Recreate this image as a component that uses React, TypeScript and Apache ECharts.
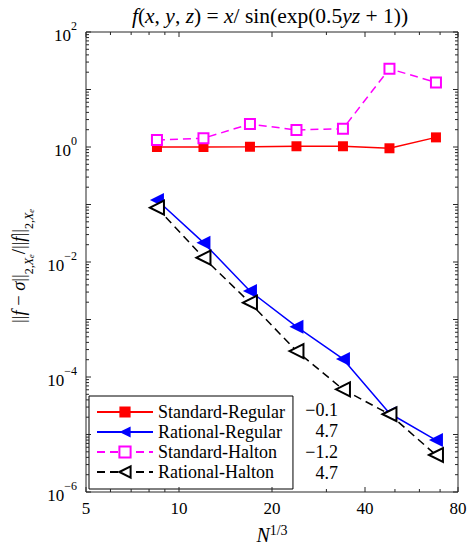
import React, { useEffect, useRef } from "react";
import * as echarts from "echarts";

// N^{1/3} sample positions
const nCube = [8.485, 12, 16.97, 24, 33.94, 48, 67.88];
const seriesNames = ["Standard-Regular", "Rational-Regular", "Standard-Halton", "Rational-Halton"];
const standardRegular = [1.0, 1.0, 1.01, 1.03, 1.03, 0.95, 1.47];
const rationalRegular = [0.12, 0.0217, 0.00313, 7.5e-4, 2.06e-4, 2.34e-5, 8.0e-6];
const standardHalton = [1.32, 1.42, 2.51, 1.98, 2.08, 23, 13.3];
const rationalHalton = [0.088, 0.0119, 0.00196, 2.83e-4, 6.1e-5, 2.25e-5, 4.4e-6];
const rates = ["\u22120.1", "4.7", "\u22121.2", "4.7"];
const xTicks = [5, 10, 20, 40, 80];
const xMinorTicks = [6, 7, 8, 9, 30, 50, 60, 70];
const yExponents = [-6, -5, -4, -3, -2, -1, 0, 1, 2];
const yMinorMult = [2, 3, 4, 5, 6, 7, 8, 9];

const FONT = "Liberation Serif";
const AXIS_COLOR = "#262626";

export default function App() {
  const ref = useRef<HTMLDivElement>(null);
  useEffect(() => {
    if (!ref.current) return;
    const chart = echarts.init(ref.current, undefined, { renderer: "svg" });
    const xMin = xTicks[0];
    const xMax = xTicks[xTicks.length - 1];
    const yMin = Math.pow(10, yExponents[0]);
    const yMax = Math.pow(10, yExponents[yExponents.length - 1]);

    const pairs = (ys: number[]) => nCube.map((x, i) => [x, ys[i]]);

    const tickSeries = {
      type: "custom",
      coordinateSystem: "cartesian2d",
      silent: true,
      z: 10,
      data: [[xMin, 1]],
      renderItem: (_p: any, api: any) => {
        const children: any[] = [];
        const yb = api.coord([xMin, yMin])[1];
        const yt = api.coord([xMin, yMax])[1];
        const xl = api.coord([xMin, yMin])[0];
        const xr = api.coord([xMax, yMin])[0];
        const st = { stroke: AXIS_COLOR, lineWidth: 1 };
        const vline = (x: number, len: number) => {
          children.push({ type: "line", shape: { x1: x, y1: yb, x2: x, y2: yb - len }, style: st });
          children.push({ type: "line", shape: { x1: x, y1: yt, x2: x, y2: yt + len }, style: st });
        };
        const hline = (y: number, len: number) => {
          children.push({ type: "line", shape: { x1: xl, y1: y, x2: xl + len, y2: y }, style: st });
          children.push({ type: "line", shape: { x1: xr, y1: y, x2: xr - len, y2: y }, style: st });
        };
        xTicks.forEach((v) => {
          const x = api.coord([v, yMin])[0];
          vline(x, 5);
          children.push({
            type: "text",
            style: {
              text: String(v), x, y: yb + 8,
              align: "center", verticalAlign: "top", textAlign: "center", textVerticalAlign: "top",
              fontFamily: FONT, fontSize: 17, fill: "#000",
            },
          });
        });
        xMinorTicks.forEach((v) => vline(api.coord([v, yMin])[0], 3));
        yExponents.forEach((e, i) => {
          const base = Math.pow(10, e);
          hline(api.coord([xMin, base])[1], 5);
          if (i < yExponents.length - 1) {
            yMinorMult.forEach((k) => hline(api.coord([xMin, k * base])[1], 3));
          }
        });
        return { type: "group", children };
      },
    };

    const option: any = {
      animation: false,
      textStyle: { fontFamily: FONT },
      grid: {
        left: 86, right: 12, top: 32, bottom: 55,
        show: true, borderColor: AXIS_COLOR, borderWidth: 1, backgroundColor: "transparent",
      },
      xAxis: {
        type: "log", logBase: 2, min: xMin, max: xMax,
        axisLine: { show: false }, axisTick: { show: false }, axisLabel: { show: false }, splitLine: { show: false },
      },
      yAxis: {
        type: "log", logBase: 10, min: yMin, max: yMax,
        axisLine: { show: false }, axisTick: { show: false }, splitLine: { show: false },
        axisLabel: {
          interval: 0,
          margin: 9,
          fontFamily: FONT,
          formatter: (v: number) => {
            const e = Math.round(Math.log10(v));
            if (e % 2 !== 0) return "";
            const es = e < 0 ? "\u2212" + -e : String(e);
            return `{b|10}{s|${es}}`;
          },
          rich: {
            b: { fontFamily: FONT, fontSize: 17, color: "#000", lineHeight: 24, verticalAlign: "bottom" },
            s: { fontFamily: FONT, fontSize: 12, color: "#000", lineHeight: 24, verticalAlign: "top" },
          },
        },
      },
      legend: {
        data: seriesNames,
        orient: "vertical",
        left: 89, top: 396,
        padding: [7, 8, 8, 7],
        itemWidth: 56, itemHeight: 14, itemGap: 2,
        backgroundColor: "#fff", borderColor: "#000", borderWidth: 1, borderRadius: 0,
        textStyle: { fontFamily: FONT, fontSize: 18, color: "#000" },
      },
      graphic: [
        {
          type: "text", x: 270, y: 16, z: 100,
          style: {
            text: "{i|f}{r|(}{i|x}{r|, }{i|y}{r|, }{i|z}{r|) = }{i|x}{r|/ sin(exp(0.5}{i|yz}{r| + 1))}",
            align: "center", verticalAlign: "middle", textAlign: "center", textVerticalAlign: "middle",
            fill: "#000", fontFamily: FONT,
            rich: {
              i: { fontFamily: FONT, fontStyle: "italic", fontSize: 21.5 },
              r: { fontFamily: FONT, fontSize: 21.5 },
            },
          },
        },
        {
          type: "text", x: 272, y: 534, z: 100,
          style: {
            text: "{i|N}{s|1/3}",
            align: "center", verticalAlign: "middle", textAlign: "center", textVerticalAlign: "middle",
            fill: "#000", fontFamily: FONT,
            rich: {
              i: { fontFamily: FONT, fontStyle: "italic", fontSize: 20, lineHeight: 22, verticalAlign: "bottom" },
              s: { fontFamily: FONT, fontSize: 14, lineHeight: 22, verticalAlign: "top" },
            },
          },
        },
        {
          type: "text", x: 22, y: 266, z: 100, rotation: Math.PI / 2,
          style: {
            text: "{r|||}{i|f}{r| \u2212 }{i|\u03c3}{r|||}{sub|2,}{subi|X}{ss|e}{r|/||}{i|f}{r|||}{sub|2,}{subi|X}{ss|e}",
            align: "center", verticalAlign: "middle", textAlign: "center", textVerticalAlign: "middle",
            fill: "#000", fontFamily: FONT,
            rich: {
              r: { fontFamily: FONT, fontSize: 18.5, lineHeight: 26, verticalAlign: "top" },
              i: { fontFamily: FONT, fontStyle: "italic", fontSize: 18.5, lineHeight: 26, verticalAlign: "top" },
              sub: { fontFamily: FONT, fontSize: 12, lineHeight: 26, verticalAlign: "bottom" },
              subi: { fontFamily: FONT, fontStyle: "italic", fontSize: 12, lineHeight: 26, verticalAlign: "bottom" },
              ss: { fontFamily: FONT, fontStyle: "italic", fontSize: 8.5, lineHeight: 24, verticalAlign: "bottom" },
            },
          },
        },
        ...rates.map((r, i) => ({
          type: "text", x: 338, y: 410 + i * 21, z: 100,
          style: {
            text: r,
            align: "right", verticalAlign: "middle", textAlign: "right", textVerticalAlign: "middle",
            fontFamily: FONT, fontSize: 18, fill: "#000",
          },
        })),
      ],
      series: [
        {
          name: seriesNames[0], type: "line", data: pairs(standardRegular),
          symbol: "rect", symbolSize: 10,
          itemStyle: { color: "#ff0000" }, lineStyle: { color: "#ff0000", width: 1.5 },
        },
        {
          name: seriesNames[1], type: "line", data: pairs(rationalRegular),
          symbol: "triangle", symbolSize: 14, symbolRotate: 90,
          itemStyle: { color: "#0000ff" }, lineStyle: { color: "#0000ff", width: 1.5 },
        },
        {
          name: seriesNames[2], type: "line", data: pairs(standardHalton),
          symbol: "emptyRect", symbolSize: 10,
          itemStyle: { color: "#ff00ff" }, lineStyle: { color: "#ff00ff", width: 1.5, type: [8, 5] },
        },
        {
          name: seriesNames[3], type: "line", data: pairs(rationalHalton),
          symbol: "emptyTriangle", symbolSize: 14, symbolRotate: 90,
          itemStyle: { color: "#000000" }, lineStyle: { color: "#000000", width: 1.5, type: [8, 5] },
        },
        tickSeries,
      ],
    };
    chart.setOption(option);
    return () => chart.dispose();
  }, []);
  return <div ref={ref} style={{ width: 470, height: 547, position: "absolute", left: 0, top: 0 }} />;
}
